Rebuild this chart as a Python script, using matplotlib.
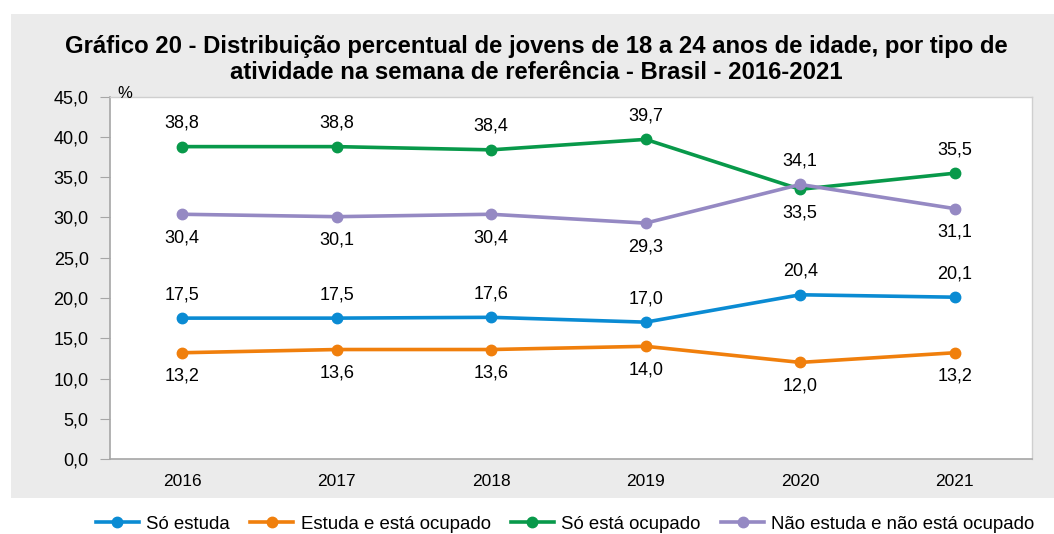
import matplotlib.pyplot as plt
from matplotlib.patches import Rectangle
from matplotlib.lines import Line2D

plt.rcParams['font.family'] = ['Liberation Sans', 'DejaVu Sans']

years = ['2016', '2017', '2018', '2019', '2020', '2021']
so_estuda = [17.5, 17.5, 17.6, 17.0, 20.4, 20.1]
estuda_ocupado = [13.2, 13.6, 13.6, 14.0, 12.0, 13.2]
so_ocupado = [38.8, 38.8, 38.4, 39.7, 33.5, 35.5]
nem_nem = [30.4, 30.1, 30.4, 29.3, 34.1, 31.1]
series_names = ['Só estuda', 'Estuda e está ocupado', 'Só está ocupado',
                'Não estuda e não está ocupado']

colors = ['#0a8bd3', '#f07f0c', '#08994a', '#9589c3']
# label above (+1) or below (-1) the point
label_side = [
    [1, 1, 1, 1, 1, 1],
    [-1, -1, -1, -1, -1, -1],
    [1, 1, 1, 1, -1, 1],
    [-1, -1, -1, -1, 1, -1],
]

fig = plt.figure(figsize=(10.54, 5.34), dpi=100)
fig.patches.append(Rectangle((0.0104, 0.0665), 0.9896, 0.9073, transform=fig.transFigure,
                             facecolor='#ebebeb', edgecolor='none', zorder=-10))

ax = fig.add_axes([0.1039, 0.1404, 0.8752, 0.6785])
ax.set_facecolor('white')

x = list(range(len(years)))
all_series = [so_estuda, estuda_ocupado, so_ocupado, nem_nem]
for vals, col, sides in zip(all_series, colors, label_side):
    ax.plot(x, vals, color=col, lw=2.6, marker='o', ms=7.5, solid_capstyle='round', zorder=3)
    for xi, v, s in zip(x, vals, sides):
        ax.annotate(f'{v:.1f}'.replace('.', ','), (xi, v), xytext=(0, 17 * s),
                    textcoords='offset points', ha='center', va='center', fontsize=13)

ax.set_xlim(-0.47, 5.5)
ax.set_ylim(0, 45)
ax.set_yticks(range(0, 46, 5))
ax.set_yticklabels([f'{t:.1f}'.replace('.', ',') for t in range(0, 46, 5)], fontsize=13)
ax.set_xticks(x)
ax.set_xticklabels(years, fontsize=12.5)
ax.tick_params(axis='y', length=7, color='#a6a6a6', pad=8)
ax.tick_params(axis='x', length=0, pad=11)
for side in ['left', 'bottom']:
    ax.spines[side].set_color('#a6a6a6')
    ax.spines[side].set_linewidth(1.2)
for side in ['top', 'right']:
    ax.spines[side].set_color('#cfcfcf')
    ax.spines[side].set_linewidth(1.0)

ax.text(0.008, 1.01, '%', transform=ax.transAxes, fontsize=12, ha='left', va='center')

fig.text(0.509, 0.888, 'Gráfico 20 - Distribuição percentual de jovens de 18 a 24 anos de idade, por tipo de\n'
         'atividade na semana de referência - Brasil - 2016-2021',
         ha='center', va='center', fontsize=17.2, fontweight='bold', linespacing=1.15)

handles = [Line2D([], [], color=c, lw=2.6, marker='o', ms=7.5) for c in colors]
ax.legend(handles, series_names, loc='center', bbox_to_anchor=(0.494, -0.18), ncol=4,
          frameon=False, fontsize=13.4, handlelength=2.3, handletextpad=0.4, columnspacing=1.1)

fig.savefig('out.png', dpi=100)
